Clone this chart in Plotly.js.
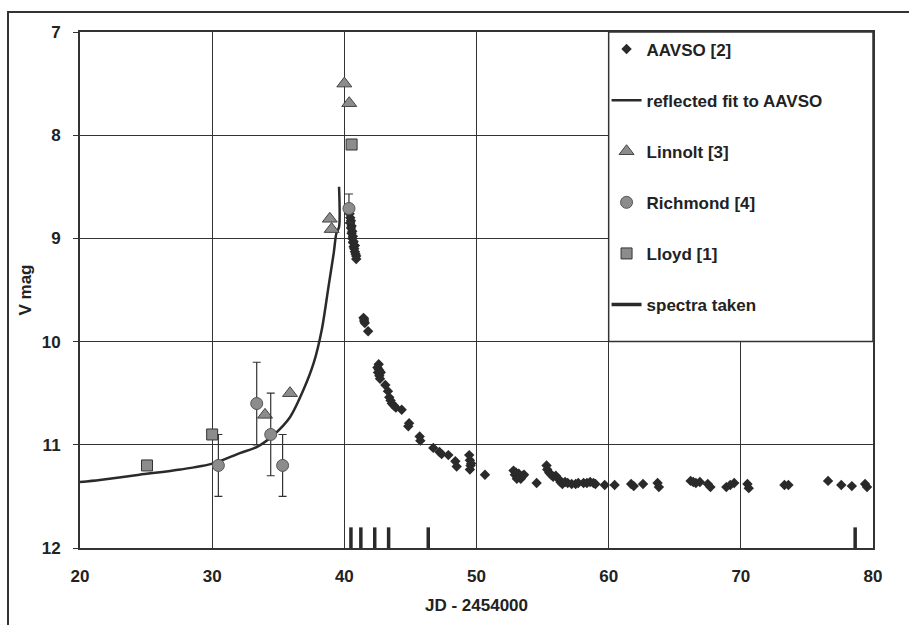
<!DOCTYPE html>
<html>
<head>
<meta charset="utf-8">
<script src="https://cdn.plot.ly/plotly-3.0.1.min.js"></script>
<style>html,body{margin:0;padding:0;background:#fff;}#chart{width:909px;height:625px;}</style>
</head>
<body>
<div id="chart"></div>
<script>
// AAVSO [2]
const aavsoX = [40.40,40.45,40.45,40.50,40.50,40.55,40.55,40.60,40.60,40.65,40.65,40.70,40.70,40.75,40.80,40.80,40.85,40.90,40.90,
  41.45,41.50,41.55,41.50,41.80,
  42.50,42.55,42.60,42.70,42.65,42.75,42.70,42.60,
  43.10,43.30,43.40,43.50,43.60,43.75,43.90,44.34,44.84,44.90,45.70,45.75,46.73,47.20,47.36,47.87,48.40,48.50,49.45,49.50,49.55,49.50,49.60,50.64,
  52.80,52.90,53.00,53.10,53.20,53.35,53.50,53.60,53.05,
  54.55,
  55.30,55.35,55.50,55.65,55.80,56.00,56.20,56.35,56.50,56.70,56.90,57.20,57.50,57.70,58.10,58.35,58.60,58.85,59.00,
  59.70,60.45,61.70,61.90,62.60,63.70,63.80,
  66.20,66.40,66.60,66.90,67.50,67.70,
  68.90,69.20,69.50,70.50,70.60,73.30,73.60,76.60,77.60,78.40,79.40,79.55];
const aavsoY = [8.76,8.80,8.85,8.83,8.90,8.88,8.95,8.93,9.00,8.98,9.04,9.03,9.08,9.10,9.07,9.13,9.15,9.17,9.20,
  9.77,9.80,9.82,9.78,9.90,
  10.25,10.30,10.27,10.29,10.33,10.30,10.36,10.22,
  10.42,10.48,10.54,10.57,10.60,10.62,10.64,10.66,10.82,10.79,10.92,10.96,11.03,11.07,11.09,11.10,11.16,11.21,11.10,11.15,11.20,11.24,11.18,11.29,
  11.25,11.29,11.27,11.31,11.28,11.33,11.30,11.29,11.33,
  11.37,
  11.20,11.24,11.27,11.29,11.31,11.30,11.33,11.36,11.38,11.36,11.37,11.38,11.38,11.37,11.37,11.37,11.36,11.37,11.38,
  11.39,11.39,11.38,11.40,11.38,11.37,11.41,
  11.35,11.36,11.37,11.36,11.38,11.41,
  11.41,11.39,11.37,11.38,11.42,11.39,11.39,11.35,11.39,11.40,11.38,11.41];

// reflected fit to AAVSO
const fitX = [20.0,21.5,24.5,27.6,30.1,32.1,33.4,34.6,35.9,36.9,37.7,38.3,38.8,39.2,39.4,39.6,39.6];
const fitY = [11.36,11.34,11.29,11.24,11.18,11.08,11.02,10.91,10.73,10.47,10.20,9.88,9.47,9.14,8.95,8.89,8.50];

// Linnolt [3]
const linnoltX = [40.0,40.37,38.9,39.04,35.89,34.0];
const linnoltY = [7.50,7.69,8.81,8.91,10.50,10.71];

// Richmond [4]
const richmondX = [33.37,34.43,30.47,35.33,40.35];
const richmondY = [10.60,10.90,11.20,11.20,8.71];
const richmondErr = [0.40,0.40,0.30,0.30,0.14];

// Lloyd [1]
const lloydX = [25.07,30.0,40.55];
const lloydY = [11.20,10.90,8.09];

// spectra taken
const spectraX = [40.5,41.25,42.3,43.35,46.35,78.65];
const spectraTop = 11.8;
const spectraBottom = 12;

const sx = [], sy = [];
spectraX.forEach(v => { sx.push(v, v, null); sy.push(spectraBottom, spectraTop, null); });

const dark = '#2a2a2a';
const gray = '#8c8c8c';

const traces = [
  {x: aavsoX, y: aavsoY, mode: 'markers', name: 'AAVSO [2]', legendgroup: 'a',
   marker: {symbol: 'diamond', size: 8, color: dark, line: {width: 0}}},
  {x: fitX, y: fitY, mode: 'lines', name: 'reflected fit to AAVSO', legendgroup: 'b',
   line: {color: dark, width: 2.5, shape: 'spline', smoothing: 0.8}},
  {x: linnoltX, y: linnoltY, mode: 'markers', name: 'Linnolt [3]', legendgroup: 'c',
   marker: {symbol: 'triangle-up', size: 13, color: gray, line: {color: '#444', width: 1}}},
  {x: richmondX, y: richmondY, mode: 'markers', name: 'Richmond [4]', legendgroup: 'd',
   error_y: {type: 'data', array: richmondErr, visible: true, color: '#333', thickness: 1.2, width: 4},
   marker: {symbol: 'circle', size: 12, color: gray, line: {color: '#555', width: 1}}},
  {x: lloydX, y: lloydY, mode: 'markers', name: 'Lloyd [1]', legendgroup: 'e',
   marker: {symbol: 'square', size: 11, color: gray, line: {color: '#333', width: 1}}},
  {x: sx, y: sy, mode: 'lines', name: 'spectra taken', legendgroup: 'f',
   line: {color: dark, width: 3.5}}
];

const font = {family: '"Liberation Sans", Arial, sans-serif', size: 17, color: '#222', weight: 'bold'};

const layout = {
  width: 909, height: 625,
  margin: {l: 80, r: 36, t: 32, b: 77},
  paper_bgcolor: '#fff', plot_bgcolor: '#fff',
  font: font,
  showlegend: true,
  legend: {x: 0.664, xanchor: 'left', y: 1.001, yanchor: 'top', bgcolor: 'rgba(0,0,0,0)',
           borderwidth: 0, font: font, traceorder: 'grouped', tracegroupgap: 26},
  xaxis: {range: [20, 80], dtick: 10, tick0: 20, showgrid: true, gridcolor: '#333', gridwidth: 1,
          showline: true, linecolor: '#333', linewidth: 2, mirror: true, zeroline: false,
          ticks: 'inside', ticklen: 3, tickcolor: '#333', ticklabelstandoff: 12,
          title: {text: 'JD - 2454000', font: font, standoff: 14}},
  yaxis: {range: [12, 7], dtick: 1, showgrid: true, gridcolor: '#333', gridwidth: 1,
          showline: true, linecolor: '#333', linewidth: 2, mirror: true, zeroline: false,
          ticks: 'outside', ticklen: 5, tickcolor: '#333', ticklabelstandoff: 9,
          title: {text: 'V mag', font: font, standoff: 6}},
  shapes: [
    {type: 'rect', xref: 'x', yref: 'y', x0: 60, x1: 80, y0: 7, y1: 10, layer: 'above',
     fillcolor: '#fff', line: {color: '#333', width: 1.5}},
    {type: 'rect', xref: 'paper', yref: 'paper', x0: -0.0908, x1: 1.2, y0: -0.3, y1: 1.0388,
     fillcolor: 'rgba(0,0,0,0)', line: {color: '#333', width: 2}}
  ]
};

Plotly.newPlot('chart', traces, layout, {displayModeBar: false, staticPlot: true});
</script>
</body>
</html>
